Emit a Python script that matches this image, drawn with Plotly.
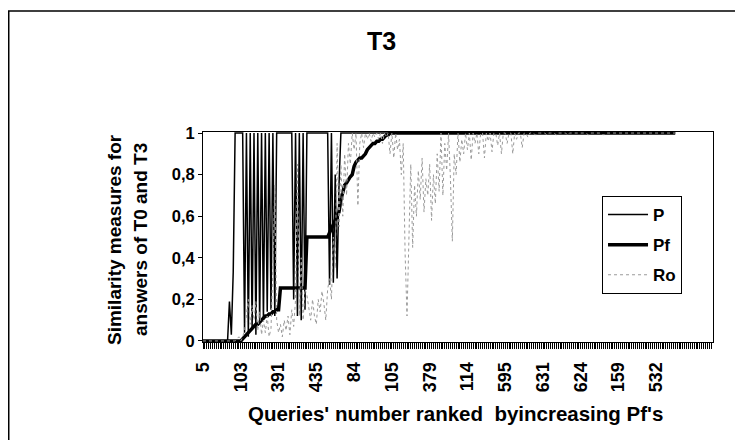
import plotly.graph_objects as go

# ---------------- data ----------------
# x tick labels: query numbers shown every 20th rank position
tick_labels = ["5", "103", "391", "435", "84", "105", "379", "114",
               "595", "631", "624", "159", "532"]
LABEL_STEP = 20          # ranks between two printed labels
N_CATEGORIES = 270       # rank slots on the category axis

# P (thin black) - one row per 20 ranks
P = [
    0, 0, 0, 0, 0, 0, 0, 0, 0, 0, 0, 0, 0, 0, 0.19, 0.03, 0.33, 1, 1, 1,
    1, 1, 0.04, 1, 0.02, 1, 0.06, 1, 0.03, 1, 0.08, 1, 0.1, 1, 0.14, 1, 0.15, 1, 0.12, 1,
    1, 1, 1, 1, 1, 1, 1, 1, 0.2, 1, 0.12, 1, 0.1, 1, 0.15, 1, 1, 1, 1, 1,
    1, 1, 1, 1, 1, 1, 1, 0.27, 1, 0.28, 0.8, 0.3, 0.75, 1, 1, 1, 1, 1, 1, 1,
    1, 1, 1, 1, 1, 1, 1, 1, 1, 1, 1, 1, 1, 1, 1, 1, 1, 1, 1, 1,
    1, 1, 1, 1, 1, 1, 1, 1, 1, 1, 1, 1, 1, 1, 1, 1, 1, 1, 1, 1,
    1, 1, 1, 1, 1, 1, 1, 1, 1, 1, 1, 1, 1, 1, 1, 1, 1, 1, 1, 1,
    1, 1, 1, 1, 1, 1, 1, 1, 1, 1, 1, 1, 1, 1, 1, 1, 1, 1, 1, 1,
    1, 1, 1, 1, 1, 1, 1, 1, 1, 1, 1, 1, 1, 1, 1, 1, 1, 1, 1, 1,
    1, 1, 1, 1, 1, 1, 1, 1, 1, 1, 1, 1, 1, 1, 1, 1, 1, 1, 1, 1,
    1, 1, 1, 1, 1, 1, 1, 1, 1, 1, 1, 1, 1, 1, 1, 1, 1, 1, 1, 1,
    1, 1, 1, 1, 1, 1, 1, 1, 1, 1, 1, 1, 1, 1, 1, 1, 1, 1, 1, 1,
    1, 1, 1, 1, 1, 1, 1, 1, 1, 1, 1,
]

# Pf (thick black, increasing)
Pf = [
    0, 0, 0, 0, 0, 0, 0, 0, 0, 0, 0, 0, 0, 0, 0, 0, 0, 0, 0, 0,
    0, 0.01, 0.02, 0.03, 0.04, 0.05, 0.06, 0.07, 0.08, 0.08, 0.09, 0.1, 0.11, 0.12, 0.12, 0.13, 0.13, 0.14, 0.14, 0.15,
    0.15, 0.255, 0.255, 0.255, 0.255, 0.255, 0.255, 0.255, 0.255, 0.255, 0.255, 0.255, 0.255, 0.255, 0.255, 0.5, 0.5, 0.5, 0.5, 0.5,
    0.5, 0.5, 0.5, 0.5, 0.5, 0.5, 0.5, 0.52, 0.54, 0.56, 0.58, 0.6, 0.62, 0.68, 0.72, 0.75, 0.76, 0.78, 0.79, 0.8,
    0.84, 0.86, 0.87, 0.88, 0.88, 0.89, 0.9, 0.92, 0.93, 0.94, 0.95, 0.95, 0.96, 0.96, 0.97, 0.97, 0.98, 0.99, 0.99, 1,
    1, 1, 1, 1, 1, 1, 1, 1, 1, 1, 1, 1, 1, 1, 1, 1, 1, 1, 1, 1,
    1, 1, 1, 1, 1, 1, 1, 1, 1, 1, 1, 1, 1, 1, 1, 1, 1, 1, 1, 1,
    1, 1, 1, 1, 1, 1, 1, 1, 1, 1, 1, 1, 1, 1, 1, 1, 1, 1, 1, 1,
    1, 1, 1, 1, 1, 1, 1, 1, 1, 1, 1, 1, 1, 1, 1, 1, 1, 1, 1, 1,
    1, 1, 1, 1, 1, 1, 1, 1, 1, 1, 1, 1, 1, 1, 1, 1, 1, 1, 1, 1,
    1, 1, 1, 1, 1, 1, 1, 1, 1, 1, 1, 1, 1, 1, 1, 1, 1, 1, 1, 1,
    1, 1, 1, 1, 1, 1, 1, 1, 1, 1, 1, 1, 1, 1, 1, 1, 1, 1, 1, 1,
    1, 1, 1, 1, 1, 1, 1, 1, 1, 1, 1,
]

# Ro (grey dotted)
Ro = [
    0, 0, 0, 0, 0, 0, 0, 0, 0, 0, 0, 0, 0, 0, 0, 0, 0, 0, 0.01, 0.02,
    0, 0.02, 0.05, 0.12, 0.2, 0.08, 0.17, 0.1, 0.19, 0.05, 0.14, 0.03, 0.1, 0.04, 0.12, 0.02, 0.06, 0.35, 0.75, 0.1,
    0.04, 0.08, 0.02, 0.1, 0.05, 0.12, 0.03, 0.15, 0.07, 0.2, 0.85, 0.12, 0.4, 0.1, 0.25, 0.22, 0.15, 0.1, 0.2, 0.12,
    0.08, 0.2, 0.14, 0.24, 0.18, 0.1, 0.25, 0.3, 0.2, 0.5, 0.35, 0.95, 0.55, 0.85, 0.6, 0.9, 0.7, 0.95, 0.85, 1,
    0.92, 1, 0.65, 0.95, 1, 0.93, 1, 0.97, 1, 0.96, 1, 0.98, 1, 0.97, 1, 0.95, 1, 0.98, 1, 0.9,
    1, 0.88, 1, 0.92, 0.97, 0.8, 0.95, 0.42, 0.12, 0.5, 0.85, 0.45, 0.75, 0.6, 0.82, 0.68, 0.88, 0.62, 0.78, 0.7,
    0.85, 0.58, 0.8, 0.66, 0.9, 0.72, 1, 0.7, 0.95, 0.82, 1, 0.78, 0.48, 0.9, 0.8, 1, 0.86, 0.97, 0.9, 1,
    0.92, 1, 0.87, 1, 0.95, 1, 0.9, 1, 1, 0.88, 1, 0.96, 1, 0.91, 1, 1, 0.94, 1, 0.9, 1,
    1, 0.95, 1, 1, 0.9, 1, 0.97, 1, 1, 0.93, 1, 1, 0.98, 1, 1, 1, 0.99, 1, 1, 1,
    1, 1, 0.99, 1, 1, 1, 1, 0.99, 1, 1, 1, 1, 1, 0.99, 1, 1, 1, 1, 1, 1,
    1, 1, 1, 1, 0.99, 1, 1, 1, 1, 1, 1, 1, 0.99, 1, 1, 1, 1, 1, 1, 1,
    1, 1, 1, 1, 1, 1, 1, 1, 1, 1, 1, 1, 1, 1, 1, 1, 1, 1, 1, 1,
    1, 1, 1, 1, 1, 1, 1, 1, 1, 1, 1,
]

y_ticks = [0, 0.2, 0.4, 0.6, 0.8, 1]

# ---------------- figure ----------------
FONT = "Liberation Sans"
ranks = list(range(len(P)))

fig = go.Figure()
fig.add_trace(go.Scatter(x=ranks, y=P, name="P", mode="lines", legendgroup="a",
                         line=dict(color="black", width=1.5)))
fig.add_trace(go.Scatter(x=ranks, y=Pf, name="Pf", mode="lines", legendgroup="b",
                         line=dict(color="black", width=3.5)))
fig.add_trace(go.Scatter(x=ranks, y=Ro, name="Ro", mode="lines", legendgroup="c",
                         line=dict(color="#9a9a9a", width=1, dash="dot")))

all_ticks = list(range(N_CATEGORIES))
tick_text = []
for i in all_ticks:
    k = i // LABEL_STEP
    if i % LABEL_STEP == 0 and k < len(tick_labels):
        tick_text.append(tick_labels[k])
    else:
        tick_text.append("")

# the page body adds an 8px offset, so the figure is 8px smaller than the window
fig.update_layout(
    width=735, height=432,
    margin=dict(l=195, r=30, t=124, b=98),
    paper_bgcolor="white", plot_bgcolor="white",
    separators=", ",
    font=dict(family=FONT, color="black", size=16, weight="bold"),
    title=dict(text="T3", x=0.5084, xref="container", xanchor="center",
               y=0.924, yref="container", yanchor="middle",
               font=dict(family=FONT, size=25, weight="bold", color="black")),
    showlegend=True,
    legend=dict(x=0.7824, y=0.6952, xanchor="left", yanchor="top",
                bgcolor="white", bordercolor="black", borderwidth=1,
                font=dict(family=FONT, size=17, weight="bold", color="black"),
                tracegroupgap=5, itemwidth=40),
    xaxis=dict(range=[0, N_CATEGORIES], tickmode="array", tickvals=all_ticks,
               ticktext=tick_text, tickangle=-90, ticks="outside", ticklen=6,
               tickwidth=1, tickcolor="black", showline=True, linecolor="black",
               linewidth=1, mirror=True, showgrid=False, zeroline=False,
               ticklabelstandoff=6,
               tickfont=dict(family=FONT, size=18, weight="bold", color="black")),
    yaxis=dict(range=[-0.005, 1.005], tickmode="array", tickvals=y_ticks,
               ticks="outside", ticklen=4, tickwidth=1, tickcolor="black",
               showline=True, linecolor="black", linewidth=1, mirror=True,
               showgrid=False, zeroline=False,
               tickfont=dict(family=FONT, size=16.5, weight="bold", color="black")),
    annotations=[
        dict(text="Queries' number ranked  byincreasing Pf's", xref="paper", yref="paper",
             x=0.495, y=-0.34, xanchor="center", yanchor="middle", showarrow=False,
             font=dict(family=FONT, size=20.5, weight="bold", color="black")),
        dict(text="Similarity measures for", xref="paper", yref="paper",
             x=-0.1745, y=0.4857, xanchor="center", yanchor="middle", showarrow=False,
             textangle=-90, font=dict(family=FONT, size=19, weight="bold", color="black")),
        dict(text="answers of T0 and T3", xref="paper", yref="paper",
             x=-0.1235, y=0.4857, xanchor="center", yanchor="middle", showarrow=False,
             textangle=-90, font=dict(family=FONT, size=19, weight="bold", color="black")),
    ],
    shapes=[
        dict(type="rect", xref="paper", yref="paper", x0=-0.3809, y0=-2, x1=2, y1=1.5762,
             line=dict(color="black", width=1.5), fillcolor="rgba(0,0,0,0)", layer="above"),
    ],
)

fig.write_html("out.html")
